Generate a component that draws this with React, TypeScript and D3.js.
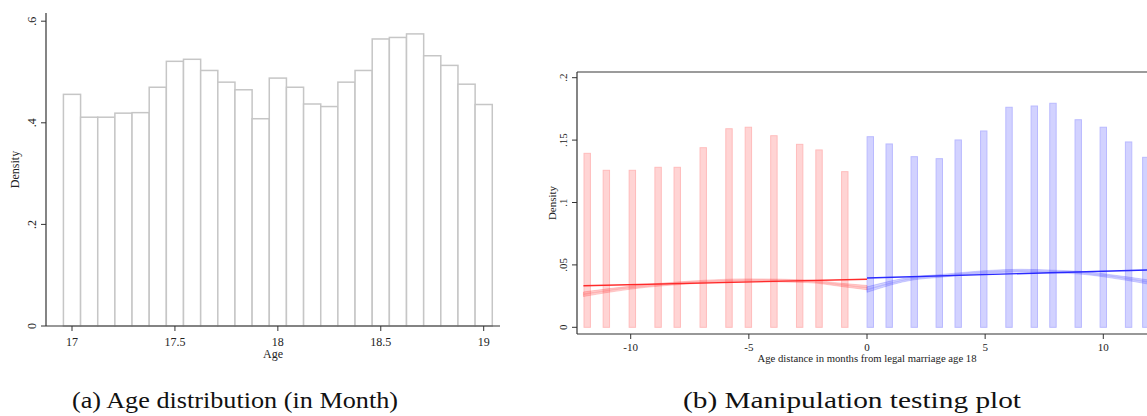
import React from "react";
import * as d3 from "d3";

// ---- Panel (a): monthly age histogram ----
const ageBinCenters = [
  17.0, 17.0833, 17.1667, 17.25, 17.3333, 17.4167, 17.5, 17.5833, 17.6667,
  17.75, 17.8333, 17.9167, 18.0, 18.0833, 18.1667, 18.25, 18.3333, 18.4167,
  18.5, 18.5833, 18.6667, 18.75, 18.8333, 18.9167, 19.0,
];
const ageDensity = [
  0.456, 0.411, 0.411, 0.419, 0.42, 0.47, 0.521, 0.525, 0.503, 0.48, 0.465,
  0.408, 0.488, 0.47, 0.437, 0.432, 0.48, 0.503, 0.565, 0.568, 0.575, 0.532,
  0.513, 0.476, 0.436,
];
const ageBinWidth = 1 / 12;
const ageTicks = [17, 17.5, 18, 18.5, 19];
const ageTickLabels = ["17", "17.5", "18", "18.5", "19"];
const densTicksA = [0, 0.2, 0.4, 0.6];
const densTickLabelsA = ["0", ".2", ".4", ".6"];

// ---- Panel (b): manipulation test ----
const leftBinX = [
  -11.84, -11.03, -9.93, -8.84, -8.03, -6.93, -5.84, -5.02, -3.94, -2.85,
  -2.03, -0.94,
];
const leftBinDensity = [
  0.1394, 0.1258, 0.1258, 0.1282, 0.1282, 0.1439, 0.1591, 0.1603, 0.1535,
  0.1466, 0.1421, 0.1247,
];
const rightBinX = [
  0.14, 0.94, 2.0, 3.06, 3.86, 4.94, 6.01, 7.08, 7.87, 8.94, 10.0, 11.07, 11.8,
];
const rightBinDensity = [
  0.1527, 0.1469, 0.1367, 0.1351, 0.1501, 0.1573, 0.1763, 0.1773, 0.1795,
  0.1663, 0.1603, 0.1485, 0.1362,
];
const binWidthB = 0.27;

// linear fits on each side of the cutoff
const leftFitX = [-12, 0];
const leftFitY = [0.0333, 0.0385];
const rightFitX = [0, 12];
const rightFitY = [0.0395, 0.046];

// local polynomial density estimates (centre and band half-width)
const leftCurveX = [-12, -10, -7.5, -5, -2.5, -1, 0];
const leftCurveY = [0.0265, 0.0318, 0.0359, 0.0377, 0.0369, 0.0338, 0.0318];
const leftCurveHalf = [0.0018, 0.0012, 0.0011, 0.0011, 0.0011, 0.0013, 0.0017];
const rightCurveX = [0, 2, 3, 5, 6.5, 8, 9, 10, 12];
const rightCurveY = [
  0.0302, 0.0393, 0.041, 0.0443, 0.0454, 0.0446, 0.0438, 0.0417, 0.036,
];
const rightCurveHalf = [
  0.0022, 0.0012, 0.0011, 0.0011, 0.0011, 0.0011, 0.0011, 0.0012, 0.0017,
];

const monthTicks = [-10, -5, 0, 5, 10];
const densTicksB = [0, 0.05, 0.1, 0.15, 0.2];
const densTickLabelsB = ["0", ".05", ".1", ".15", ".2"];

const serifStyle = {
  fontFamily: '"Liberation Serif", "Times New Roman", serif',
};
const axisColor = "#333";

function PanelA() {
  const x = d3.scaleLinear().domain([17, 19]).range([72, 483.7]);
  const y = d3.scaleLinear().domain([0, 0.6]).range([326, 21.2]);
  const axLeft = 46;
  const axRight = 500;
  const axTop = 13;
  return (
    <g style={serifStyle} fill="#222">
      {ageBinCenters.map((c, i) => (
        <rect
          key={i}
          x={x(c - ageBinWidth / 2)}
          y={y(ageDensity[i])}
          width={x(c + ageBinWidth / 2) - x(c - ageBinWidth / 2)}
          height={y(0) - y(ageDensity[i])}
          fill="#fff"
          stroke="#c6c6c6"
          strokeWidth={1.5}
        />
      ))}
      <line x1={axLeft} x2={axLeft} y1={axTop} y2={y(0)} stroke={axisColor} strokeWidth={1.2} />
      <line x1={axLeft} x2={axRight} y1={y(0)} y2={y(0)} stroke={axisColor} strokeWidth={1.2} />
      {densTicksA.map((t, i) => (
        <g key={i}>
          <line x1={axLeft - 5} x2={axLeft} y1={y(t)} y2={y(t)} stroke={axisColor} />
          <text
            transform={`translate(${axLeft - 10},${y(t)}) rotate(-90)`}
            textAnchor="middle"
            fontSize={12}
          >
            {densTickLabelsA[i]}
          </text>
        </g>
      ))}
      {ageTicks.map((t, i) => (
        <g key={i}>
          <line x1={x(t)} x2={x(t)} y1={y(0)} y2={y(0) + 5} stroke={axisColor} />
          <text x={x(t)} y={346} textAnchor="middle" fontSize={12}>
            {ageTickLabels[i]}
          </text>
        </g>
      ))}
      <text x={(axLeft + axRight) / 2} y={358} textAnchor="middle" fontSize={12}>
        Age
      </text>
      <text
        transform={`translate(19,${(axTop + y(0)) / 2}) rotate(-90)`}
        textAnchor="middle"
        fontSize={12}
      >
        Density
      </text>
    </g>
  );
}

function PanelB() {
  const x = d3.scaleLinear().domain([-10, 10]).range([630.7, 1103.3]);
  const y = d3.scaleLinear().domain([0, 0.2]).range([327.3, 77.7]);
  const axLeft = 577;
  const axBottom = 334;
  const frameTop = 72;
  const axRight = 1160;

  const fitPath = (xs: number[], ys: number[]) =>
    d3
      .line<number>()
      .x((d) => x(d))
      .y((_, i) => y(ys[i]))(xs) as string;

  const bandPath = (xs: number[], cs: number[], hs: number[]) =>
    d3
      .area<number>()
      .curve(d3.curveMonotoneX)
      .x((d) => x(d))
      .y0((_, i) => y(cs[i] - hs[i]))
      .y1((_, i) => y(cs[i] + hs[i]))(xs) as string;

  const centrePath = (xs: number[], cs: number[]) =>
    d3
      .line<number>()
      .curve(d3.curveMonotoneX)
      .x((d) => x(d))
      .y((_, i) => y(cs[i]))(xs) as string;

  const bw = x(binWidthB) - x(0);

  return (
    <g style={serifStyle} fill="#222">
      <defs>
        <clipPath id="plotB">
          <rect x={axLeft} y={frameTop} width={axRight - axLeft} height={axBottom - frameTop} />
        </clipPath>
      </defs>
      <g clipPath="url(#plotB)">
        {leftBinX.map((m, i) => (
          <rect
            key={"l" + i}
            x={x(m) - bw / 2}
            y={y(leftBinDensity[i])}
            width={bw}
            height={y(0) - y(leftBinDensity[i])}
            fill="rgb(255,212,212)"
            stroke="rgb(255,188,188)"
            strokeWidth={1}
          />
        ))}
        {rightBinX.map((m, i) => (
          <rect
            key={"r" + i}
            x={x(m) - bw / 2}
            y={y(rightBinDensity[i])}
            width={bw}
            height={y(0) - y(rightBinDensity[i])}
            fill="rgb(210,210,255)"
            stroke="rgb(186,186,255)"
            strokeWidth={1}
          />
        ))}
        <path
          d={bandPath(leftCurveX, leftCurveY, leftCurveHalf)}
          fill="rgba(255,60,60,0.22)"
          stroke="rgba(255,60,60,0.25)"
          strokeWidth={1}
        />
        <path
          d={centrePath(leftCurveX, leftCurveY)}
          fill="none"
          stroke="rgba(255,80,80,0.25)"
          strokeWidth={1.5}
        />
        <path
          d={bandPath(rightCurveX, rightCurveY, rightCurveHalf)}
          fill="rgba(60,60,255,0.2)"
          stroke="rgba(60,60,255,0.22)"
          strokeWidth={1}
        />
        <path
          d={centrePath(rightCurveX, rightCurveY)}
          fill="none"
          stroke="rgba(80,80,255,0.22)"
          strokeWidth={1.5}
        />
        <path d={fitPath(leftFitX, leftFitY)} fill="none" stroke="#ff2a2a" strokeWidth={1.3} />
        <path d={fitPath(rightFitX, rightFitY)} fill="none" stroke="#2a2aff" strokeWidth={1.3} />
      </g>
      <line x1={axLeft} x2={axRight} y1={frameTop} y2={frameTop} stroke="#7a7a7a" strokeWidth={1.3} />
      <line x1={axLeft} x2={axLeft} y1={frameTop} y2={axBottom} stroke={axisColor} strokeWidth={1.2} />
      <line x1={axLeft} x2={axRight} y1={axBottom} y2={axBottom} stroke={axisColor} strokeWidth={1.2} />
      {densTicksB.map((t, i) => (
        <g key={i}>
          <line x1={axLeft - 5} x2={axLeft} y1={y(t)} y2={y(t)} stroke={axisColor} />
          <text
            transform={`translate(${axLeft - 10},${y(t)}) rotate(-90)`}
            textAnchor="middle"
            fontSize={11}
          >
            {densTickLabelsB[i]}
          </text>
        </g>
      ))}
      {monthTicks.map((t, i) => (
        <g key={i}>
          <line x1={x(t)} x2={x(t)} y1={axBottom} y2={axBottom + 5} stroke={axisColor} />
          <text x={x(t)} y={351} textAnchor="middle" fontSize={11}>
            {String(t)}
          </text>
        </g>
      ))}
      <text
        x={x(0)}
        y={362}
        textAnchor="middle"
        fontSize={11}
        textLength={219}
        lengthAdjust="spacingAndGlyphs"
      >
        Age distance in months from legal marriage age 18
      </text>
      <text
        transform={`translate(556,${(frameTop + axBottom) / 2}) rotate(-90)`}
        textAnchor="middle"
        fontSize={11}
      >
        Density
      </text>
    </g>
  );
}

export default function App() {
  return (
    <svg
      width={1147}
      height={416}
      style={{ position: "absolute", left: 0, top: 0, background: "#fff" }}
    >
      <rect width={1147} height={416} fill="#fff" />
      <PanelA />
      <PanelB />
      <g style={serifStyle} fontSize={23} fill="#111">
        <text x={72} y={408} textLength={326} lengthAdjust="spacingAndGlyphs">
          (a) Age distribution (in Month)
        </text>
        <text x={683} y={408} textLength={338} lengthAdjust="spacingAndGlyphs">
          (b) Manipulation testing plot
        </text>
      </g>
    </svg>
  );
}
